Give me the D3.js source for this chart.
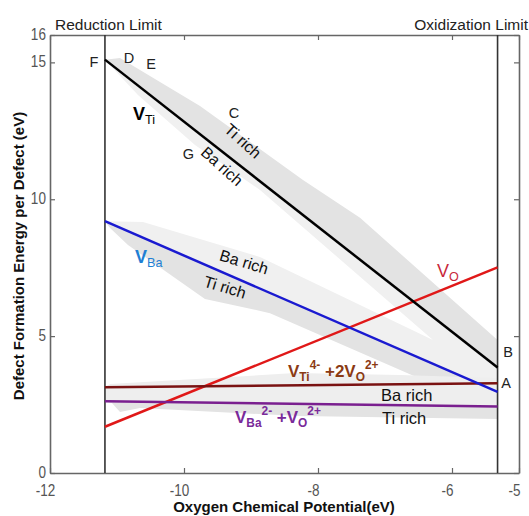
<!DOCTYPE html>
<html><head><meta charset="utf-8">
<script src="https://cdn.jsdelivr.net/npm/d3@7"></script>
<style>body{margin:0;background:#fff}</style>
</head><body><svg id="c" width="529" height="516"></svg>
<script>
// ---- data ----
const xTicks = [-12, -10, -8, -6, -5];
const yTicks = [0, 5, 10, 15, 16];
const muLimits = [-11.18, -5.32];           // reduction / oxidization limit
const muEnds = [-11.18, -5.32];
const vTi = [15.10, 3.85];
const vBa = [9.20, 2.96];
const vO = [1.69, 7.51];
const vTi2VO = [3.13, 3.28];
const vBaVO = [2.62, 2.43];
// shaded ranges (mu, E)
const bandTiDark = [[-11.18,15.10],[-10.955,15.16],[-9.761,13.41],[-8.224,10.70],[-7.373,9.32],[-5.32,4.86],[-5.32,3.85]];
const bandLight = [[-11.18,15.10],[-10.687,13.81],[-9.836,11.98],[-8.866,10.34],[-6.284,4.86],[-8.866,7.89],[-10.612,9.17],[-11.18,9.20],[-5.32,2.96],[-5.32,3.85]];
const bandBaDark = [[-11.18,9.20],[-11.104,8.95],[-10.836,8.33],[-9.687,6.36],[-8.716,5.84],[-6.328,3.29],[-5.32,2.92],[-5.32,2.96]];
const bandBottomLight = [[-11.18,3.13],[-11.104,3.25],[-8.343,3.65],[-6.776,3.58],[-5.32,3.47],[-5.32,2.42],[-11.18,2.62]];
const bandBottomDark = [[-11.18,2.62],[-11.075,2.56],[-10.955,2.23],[-10.657,2.37],[-8.269,2.08],[-5.32,1.97],[-5.32,2.42]];
const pointLabels = [["F",-11.343,14.83],["D",-10.821,14.98],["E",-10.493,14.76],["C",-9.254,12.97],["G",-9.933,11.47],["B",-5.164,4.24],["A",-5.194,3.105]];

const svg = d3.select("#c");
const x = d3.scaleLinear().domain([-12, -5]).range([50, 519]);
const y = d3.scaleLinear().domain([0, 16]).range([473, 35]);
const poly = d3.line().x(d => x(d[0])).y(d => y(d[1]));

// bands
svg.append("path").attr("d", poly(bandLight) + "Z").attr("fill", "#f0f0f0");
svg.append("path").attr("d", poly(bandTiDark) + "Z").attr("fill", "#e3e3e3");
svg.append("path").attr("d", poly(bandBaDark) + "Z").attr("fill", "#e3e3e3");
svg.append("path").attr("d", poly(bandBottomLight) + "Z").attr("fill", "#eeeeee");
svg.append("path").attr("d", poly(bandBottomDark) + "Z").attr("fill", "#e3e3e3");

// axes
const tickFont = "'Liberation Sans',Arial,sans-serif";
function styleAxis(g) {
  g.select(".domain").attr("stroke", "#666").attr("stroke-width", 1.6);
  g.selectAll(".tick line").attr("stroke", "#666").attr("stroke-width", 1.2);
  g.selectAll(".tick text").attr("fill", "#555").style("font-family", tickFont).style("font-size", "16.5px")
    .attr("transform", "scale(0.82,1)");
}
const fmt = d => String(d);
svg.append("g").attr("transform", "translate(0,473)")
  .call(d3.axisBottom(x).tickValues(xTicks).tickSizeInner(-5).tickSizeOuter(0).tickPadding(11).tickFormat(fmt))
  .call(styleAxis).call(g => g.selectAll(".tick text").attr("dx", -6));
svg.append("g").attr("transform", "translate(0,35)")
  .call(d3.axisTop(x).tickValues(xTicks).tickSizeInner(-5).tickSizeOuter(0).tickFormat(""))
  .call(styleAxis);
svg.append("g").attr("transform", "translate(50,0)")
  .call(d3.axisLeft(y).tickValues(yTicks).tickSizeInner(-5).tickSizeOuter(0).tickPadding(5).tickFormat(fmt))
  .call(styleAxis).call(g => g.selectAll(".tick text").attr("dy", "0.27em"));
svg.append("g").attr("transform", "translate(519,0)")
  .call(d3.axisRight(y).tickValues(yTicks).tickSizeInner(-5).tickSizeOuter(0).tickFormat(""))
  .call(styleAxis);

// limit lines
svg.selectAll(".lim").data(muLimits).enter().append("line")
  .attr("x1", d => x(d)).attr("x2", d => x(d)).attr("y1", y(16)).attr("y2", y(0))
  .attr("stroke", "#333").attr("stroke-width", 1.6);

// data lines
const series = [[vO, "#e01818"], [vTi2VO, "#7a1212"], [vBaVO, "#7a1f8f"], [vBa, "#1a1ad0"], [vTi, "#000"]];
series.forEach(([v, c]) => {
  svg.append("path").attr("d", poly(muEnds.map((m, i) => [m, v[i]])))
    .attr("stroke", c).attr("stroke-width", 2.5).attr("fill", "none");
});

const font = "'Liberation Sans',Arial,sans-serif";
// limit titles
svg.append("text").attr("x", 55).attr("y", 30).text("Reduction Limit")
  .style("font-family", font).style("font-size", "15.5px").attr("fill", "#222");
svg.append("text").attr("x", 528).attr("y", 30).attr("text-anchor", "end").text("Oxidization Limit")
  .style("font-family", font).style("font-size", "15.5px").attr("fill", "#222");

// axis titles
svg.append("text").attr("x", 284).attr("y", 512).attr("text-anchor", "middle")
  .text("Oxygen Chemical Potential(eV)").style("font-family", font).style("font-size", "15px").style("font-weight", "bold").attr("fill", "#111");
svg.append("text").attr("transform", "translate(24,256) rotate(-90)").attr("text-anchor", "middle")
  .text("Defect Formation Energy per Defect (eV)").style("font-family", font).style("font-size", "15px").style("font-weight", "bold").attr("fill", "#111");

// point letters
svg.selectAll(".pl").data(pointLabels).enter().append("text")
  .attr("x", d => x(d[1])).attr("y", d => y(d[2])).attr("text-anchor", "middle").text(d => d[0])
  .style("font-family", font).style("font-size", "14.5px").attr("fill", "#222");

// rotated band labels
const rich = [["Ti rich", -9.119, 12.13, 42], ["Ba rich", -9.433, 11.21, 42], ["Ba rich", -9.104, 7.71, 17], ["Ti rich", -9.388, 6.79, 17]];
rich.forEach(([t, m, e, a]) => {
  svg.append("text").attr("transform", `translate(${x(m)},${y(e)}) rotate(${a})`)
    .attr("text-anchor", "middle").attr("dy", "0.35em").text(t)
    .style("font-family", font).style("font-size", "16px").attr("fill", "#111");
});
svg.append("text").attr("x", x(-7.06)).attr("y", y(2.63)).text("Ba rich").style("font-family", font).style("font-size", "16.5px").attr("fill", "#111");
svg.append("text").attr("x", x(-7.045)).attr("y", y(1.79)).text("Ti rich").style("font-family", font).style("font-size", "16.5px").attr("fill", "#111");

// defect labels
function label(m, e, parts, color, weight, size) {
  const t = svg.append("text").attr("x", x(m)).attr("y", y(e)).attr("fill", color)
    .style("font-family", font).style("font-weight", weight).style("font-size", size + "px");
  let shift = 0;
  parts.forEach(([s, kind]) => {
    const target = kind === "sub" ? 4 : kind === "sup" ? -8 : 0;
    const ts = t.append("tspan").text(s).attr("dy", target - shift);
    if (kind !== "n") ts.style("font-size", (size * 0.7) + "px").style("font-weight", kind === "sub" && size > 17 ? "normal" : weight);
    shift = target;
  });
}
label(-10.761, 12.89, [["V", "n"], ["Ti", "sub"]], "#000", "bold", 18);
label(-10.731, 7.67, [["V", "n"], ["Ba", "sub"]], "#1f7fd4", "bold", 18);
label(-6.224, 7.16, [["V", "n"], ["O", "sub"]], "#c8283a", "normal", 18);
label(-8.448, 3.51, [["V", "n"], ["Ti", "sub"], ["4-", "sup"], [" +2V", "n"], ["O", "sub"], ["2+", "sup"]], "#8b3a14", "bold", 17);
label(-9.239, 1.83, [["V", "n"], ["Ba", "sub"], ["2-", "sup"], [" +V", "n"], ["O", "sub"], ["2+", "sup"]], "#7a2a9a", "bold", 17);
</script></body></html>
